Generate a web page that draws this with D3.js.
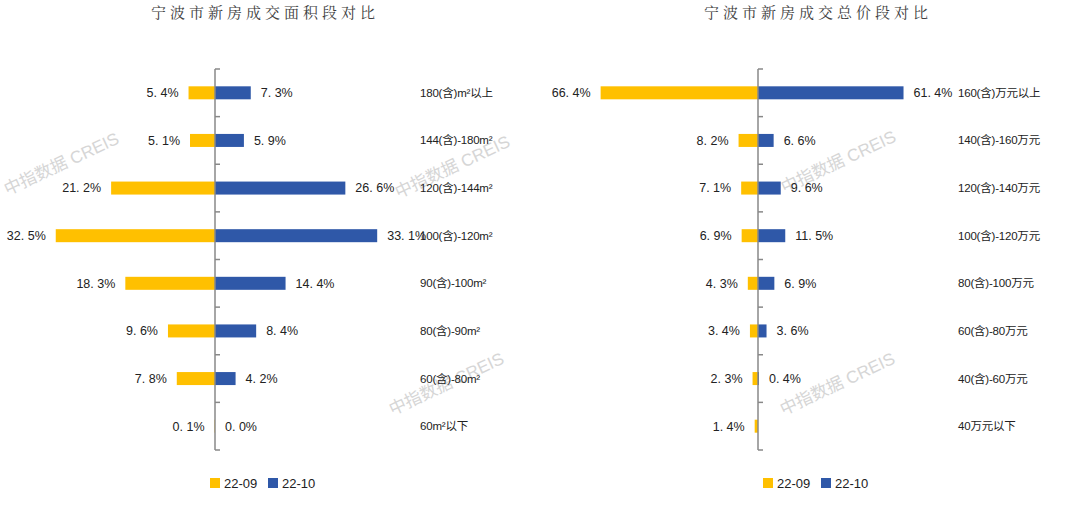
<!DOCTYPE html>
<html>
<head>
<meta charset="utf-8">
<script src="https://cdn.jsdelivr.net/npm/d3@7"></script>
<style>
  body { margin: 0; background: #fff; }
  text { font-family: "Liberation Sans", "Noto Sans CJK SC", sans-serif; }
</style>
</head>
<body>
<script>
let width = 1080;
let height = 506;

// 面积段
let areaCats = ['180(含)m²以上', '144(含)-180m²', '120(含)-144m²', '100(含)-120m²',
    '90(含)-100m²', '80(含)-90m²', '60(含)-80m²', '60m²以下'];
let area2209 = [5.4, 5.1, 21.2, 32.5, 18.3, 9.6, 7.8, 0.1];
let area2210 = [7.3, 5.9, 26.6, 33.1, 14.4, 8.4, 4.2, 0.0];

// 总价段
let priceCats = ['160(含)万元以上', '140(含)-160万元', '120(含)-140万元', '100(含)-120万元',
    '80(含)-100万元', '60(含)-80万元', '40(含)-60万元', '40万元以下'];
let price2209 = [66.4, 8.2, 7.1, 6.9, 4.3, 3.4, 2.3, 1.4];
let price2210 = [61.4, 6.6, 9.6, 11.5, 6.9, 3.6, 0.4, null];

let seriesNames = ['22-09', '22-10'];
let colors = ['#FFC000', '#2F58A8'];

let svg = d3.select("body").append("svg")
    .attr("width", width)
    .attr("height", height);

// watermark
let marks = [[62, 165], [453, 168], [447, 385], [839, 163], [838, 385]];
svg.append("g").selectAll("text")
    .data(marks)
    .enter()
    .append("text")
    .attr("transform", d => `translate(${d[0]},${d[1]})rotate(-25)`)
    .attr("text-anchor", "middle")
    .attr("dominant-baseline", "middle")
    .style("font-size", "17px")
    .style("fill", "#d6d6d6")
    .text("中指数据 CREIS");

const fmt = v => v.toFixed(1).replace('.', '. ') + '%';

const drawPanel = function (opt) {
    let g = svg.append("g");

    let y = d3.scaleBand()
        .domain(opt.cats)
        .range([69, 450]);

    let x = d3.scaleLinear()
        .domain([-opt.max, opt.max])
        .range([opt.axisX - opt.half, opt.axisX + opt.half]);

    let barH = 13;

    g.append("text")
        .attr("x", opt.titleX)
        .attr("y", 18)
        .attr("text-anchor", "middle")
        .style("font-family", "'Noto Serif CJK SC', 'Noto Sans CJK SC', serif")
        .style("font-size", "15px")
        .style("letter-spacing", "4px")
        .style("fill", "#404040")
        .text(opt.title);

    let rows = opt.cats.map((c, i) => ({ cat: c, a: opt.left[i], b: opt.right[i] }));

    g.selectAll("rect.a")
        .data(rows)
        .enter()
        .append("rect")
        .attr("class", "a")
        .attr("x", d => x(-d.a))
        .attr("y", d => y(d.cat) + y.bandwidth() / 2 - barH / 2)
        .attr("width", d => x(0) - x(-d.a))
        .attr("height", barH)
        .style("fill", colors[0]);

    g.selectAll("rect.b")
        .data(rows.filter(d => d.b != null))
        .enter()
        .append("rect")
        .attr("class", "b")
        .attr("x", x(0))
        .attr("y", d => y(d.cat) + y.bandwidth() / 2 - barH / 2)
        .attr("width", d => x(d.b) - x(0))
        .attr("height", barH)
        .style("fill", colors[1]);

    g.selectAll("text.la")
        .data(rows)
        .enter()
        .append("text")
        .attr("x", d => x(-d.a) - 10)
        .attr("y", d => y(d.cat) + y.bandwidth() / 2)
        .attr("dy", "0.35em")
        .attr("text-anchor", "end")
        .style("font-size", "12.5px")
        .style("fill", "#222")
        .text(d => fmt(d.a));

    g.selectAll("text.lb")
        .data(rows.filter(d => d.b != null))
        .enter()
        .append("text")
        .attr("x", d => x(d.b) + 10)
        .attr("y", d => y(d.cat) + y.bandwidth() / 2)
        .attr("dy", "0.35em")
        .style("font-size", "12.5px")
        .style("fill", "#222")
        .text(d => fmt(d.b));

    // category labels
    g.selectAll("text.cat")
        .data(opt.cats)
        .enter()
        .append("text")
        .attr("x", opt.catX)
        .attr("y", d => y(d) + y.bandwidth() / 2)
        .attr("dy", "0.35em")
        .style("font-size", "11.5px")
        .style("letter-spacing", "-0.2px")
        .style("fill", "#222")
        .text(d => d);

    // axis with ticks on band edges
    let edges = d3.range(opt.cats.length + 1).map(i => y.range()[0] + i * y.step());
    g.append("line")
        .attr("x1", x(0)).attr("x2", x(0))
        .attr("y1", edges[0]).attr("y2", edges[edges.length - 1])
        .style("stroke", "#888")
        .style("stroke-width", 1.5);
    g.selectAll("line.tick")
        .data(edges)
        .enter()
        .append("line")
        .attr("x1", x(0)).attr("x2", x(0) + 5)
        .attr("y1", d => d).attr("y2", d => d)
        .style("stroke", "#888")
        .style("stroke-width", 1.5);

    // legend
    let lg = g.append("g").attr("transform", `translate(${opt.legendX},483)`);
    seriesNames.forEach((s, i) => {
        lg.append("rect")
            .attr("x", i * 58)
            .attr("y", -5)
            .attr("width", 10)
            .attr("height", 10)
            .style("fill", colors[i]);
        lg.append("text")
            .attr("x", i * 58 + 14)
            .attr("y", 0)
            .attr("dy", "0.35em")
            .style("font-size", "13px")
            .style("fill", "#222")
            .text(s);
    });
};

drawPanel({
    title: '宁波市新房成交面积段对比',
    cats: areaCats, left: area2209, right: area2210,
    axisX: 215, max: 35, half: 35 * 4.9,
    titleX: 265, catX: 420, legendX: 210
});

drawPanel({
    title: '宁波市新房成交总价段对比',
    cats: priceCats, left: price2209, right: price2210,
    axisX: 758, max: 70, half: 70 * 2.37,
    titleX: 818, catX: 958, legendX: 763
});
</script>
</body>
</html>
